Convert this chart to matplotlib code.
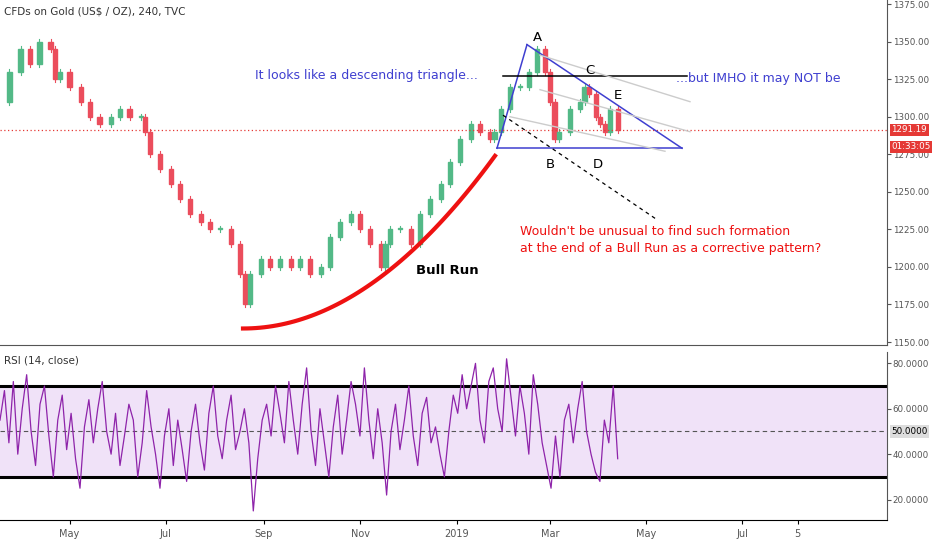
import numpy as np
import matplotlib
matplotlib.use("Agg")
import matplotlib.pyplot as plt
import datetime as dt

START = dt.date(2018, 3, 18)
def d(s):
    return (dt.date.fromisoformat(s) - START).days

# price closes (approx), day offsets from START
price_days = [0,6,13,19,25,32,35,38,44,51,57,63,70,76,82,89,92,95,101,108,114,120,127,133,139,146,152,155,158,165,171,177,184,190,196,203,209,215,222,228,234,241,244,247,253,260,266,272,279,285,291,298,304,310,313,317,323,329,335,340,345,348,351,354,361,367,370,373,377,380,383,386,391]
price_close = [1310,1330,1345,1335,1350,1345,1325,1330,1320,1310,1300,1295,1300,1305,1300,1300,1290,1275,1265,1255,1245,1235,1230,1225,1225,1215,1195,1175,1195,1205,1200,1205,1200,1205,1195,1200,1220,1230,1235,1225,1215,1200,1215,1225,1225,1215,1235,1245,1255,1270,1285,1295,1290,1285,1290,1305,1320,1320,1330,1345,1330,1310,1285,1290,1305,1310,1320,1315,1300,1295,1290,1305,1291]

rsi_vals = [55,68,45,72,40,60,75,50,35,62,70,48,30,55,66,42,58,38,25,52,64,45,60,72,50,40,58,35,48,62,55,30,45,68,52,40,25,48,60,35,55,42,28,50,62,45,33,58,70,48,38,55,66,42,50,60,45,15,38,55,62,48,70,58,45,72,55,40,62,78,50,35,60,45,30,52,66,40,55,72,62,48,78,55,38,60,45,22,50,62,42,55,70,48,35,58,65,45,52,40,30,50,66,58,75,60,70,80,55,45,72,78,60,50,82,65,48,70,58,40,75,62,45,35,25,48,30,55,62,45,60,72,50,40,32,28,55,45,70,38]
rsi_days = list(np.linspace(0, 391, len(rsi_vals)))

last_price = 1291.19
month_ticks = ["2018-05-01","2018-07-01","2018-09-01","2018-11-01","2019-01-01","2019-03-01","2019-05-01","2019-07-01","2019-08-05"]
month_labels = ["May","Jul","Sep","Nov","2019","Mar","May","Jul","5"]
price_ticks = [1150,1175,1200,1225,1250,1275,1300,1325,1350,1375]
rsi_ticks = [20,40,60,80]

PX = 0.633  # days per pixel
fig = plt.figure(figsize=(9.32, 5.5), dpi=100)
ax = fig.add_axes([0, 0.3727, 887/932, 0.6273])
ax2 = fig.add_axes([0, 30/550, 887/932, 168/550], sharex=ax)
xmax = 887*PX
ax.set_xlim(0, xmax)
ax.set_ylim(1148, 1377.7)

# candles
w = 2.6
for i in range(1, len(price_close)):
    o, c = price_close[i-1], price_close[i]
    x = price_days[i]
    col = "#53b987" if c >= o else "#eb4d5c"
    ax.plot([x, x], [min(o, c)-2, max(o, c)+2], color=col, lw=0.8)
    ax.add_patch(plt.Rectangle((x-w/2, min(o, c)), w, max(abs(c-o), 0.6), color=col))

ax.axhline(last_price, color="#e53935", ls=(0, (1, 2)), lw=0.9)

# annotations
def px(x): return x*PX
ax.plot([px(497), px(527)], [1279, 1348], color="#3f3fd0", lw=1.1)
ax.plot([px(527), px(682)], [1348, 1279], color="#3f3fd0", lw=1.1)
ax.plot([px(497), px(682)], [1279, 1279], color="#3f3fd0", lw=1.1)
ax.plot([px(503), px(687)], [1327, 1327], color="black", lw=1.1)
ax.plot([px(503), px(658)], [1301, 1231], color="black", lw=0.9, ls=(0, (3, 3)))
for (x1, y1, x2, y2) in [(540, 1341, 690, 1310), (540, 1318, 690, 1290), (510, 1300, 665, 1277)]:
    ax.plot([px(x1), px(x2)], [y1, y2], color="#cccccc", lw=1)
xs = np.linspace(243, 495, 60)
ax.plot(px(xs), 1159 + (xs-243)**2*0.00181, color="#ee1111", lw=3)
for lab, x, y in [("A", 537, 1353), ("B", 550, 1268), ("C", 590, 1331), ("D", 598, 1268), ("E", 618, 1314)]:
    ax.text(px(x), y, lab, ha="center", va="center", fontsize=9.5)
ax.text(px(255), 1325, "It looks like a descending triangle...", color="#3f3fd0", fontsize=9)
ax.text(px(676), 1323, "...but IMHO it may NOT be", color="#3f3fd0", fontsize=9)
ax.text(px(520), 1221, "Wouldn't be unusual to find such formation", color="#ee1111", fontsize=9)
ax.text(px(520), 1210, "at the end of a Bull Run as a corrective pattern?", color="#ee1111", fontsize=9)
ax.text(px(416), 1195, "Bull Run", fontsize=9.5, weight="bold")
ax.text(px(4), 1368, "CFDs on Gold (US$ / OZ), 240, TVC", fontsize=7.5, color="#333333")

# RSI
ax2.set_ylim(11, 85)
ax2.axhspan(30, 70, color="#f0e2f8")
ax2.axhline(70, color="black", lw=2.2)
ax2.axhline(30, color="black", lw=2.2)
ax2.axhline(50, color="#555555", lw=0.8, ls=(0, (4, 3)))
ax2.plot(rsi_days, rsi_vals, color="#8e24aa", lw=0.9)
ax2.text(px(4), 80, "RSI (14, close)", fontsize=7.5, color="#333333")

for a in (ax, ax2):
    a.yaxis.tick_right()
    a.tick_params(axis="y", labelsize=6.3, colors="#555555", length=3, pad=1)
    for s in ["top", "left"]:
        a.spines[s].set_visible(False)
    a.spines["right"].set_color("#555555")
ax.set_yticks(price_ticks)
ax.set_yticklabels([f"{t:.2f}" for t in price_ticks])
ax2.set_yticks(rsi_ticks)
ax2.set_yticklabels([f"{t:.4f}" for t in rsi_ticks])
ax.tick_params(axis="x", bottom=False, labelbottom=False)
ax.spines["bottom"].set_color("#555555")
ax2.set_xticks([d(t) for t in month_ticks])
ax2.set_xticklabels(month_labels, fontsize=7, color="#555555")
ax2.tick_params(axis="x", length=3)

# price labels on right
tf = dict(transform=ax.get_yaxis_transform(), fontsize=6.3, ha="left", va="center")
ax.text(1.005, last_price, "1291.19", color="white", bbox=dict(fc="#e53935", ec="none", pad=1.2), **tf)
ax.text(1.005, 1280, "01:33:05", color="white", bbox=dict(fc="#e53935", ec="none", pad=1.2), **tf)
ax2.text(1.005, 50, "50.0000", color="black", fontsize=6.3, ha="left", va="center",
         transform=ax2.get_yaxis_transform(), bbox=dict(fc="#dddddd", ec="none", pad=1.2))

fig.savefig("out.png", dpi=100)
